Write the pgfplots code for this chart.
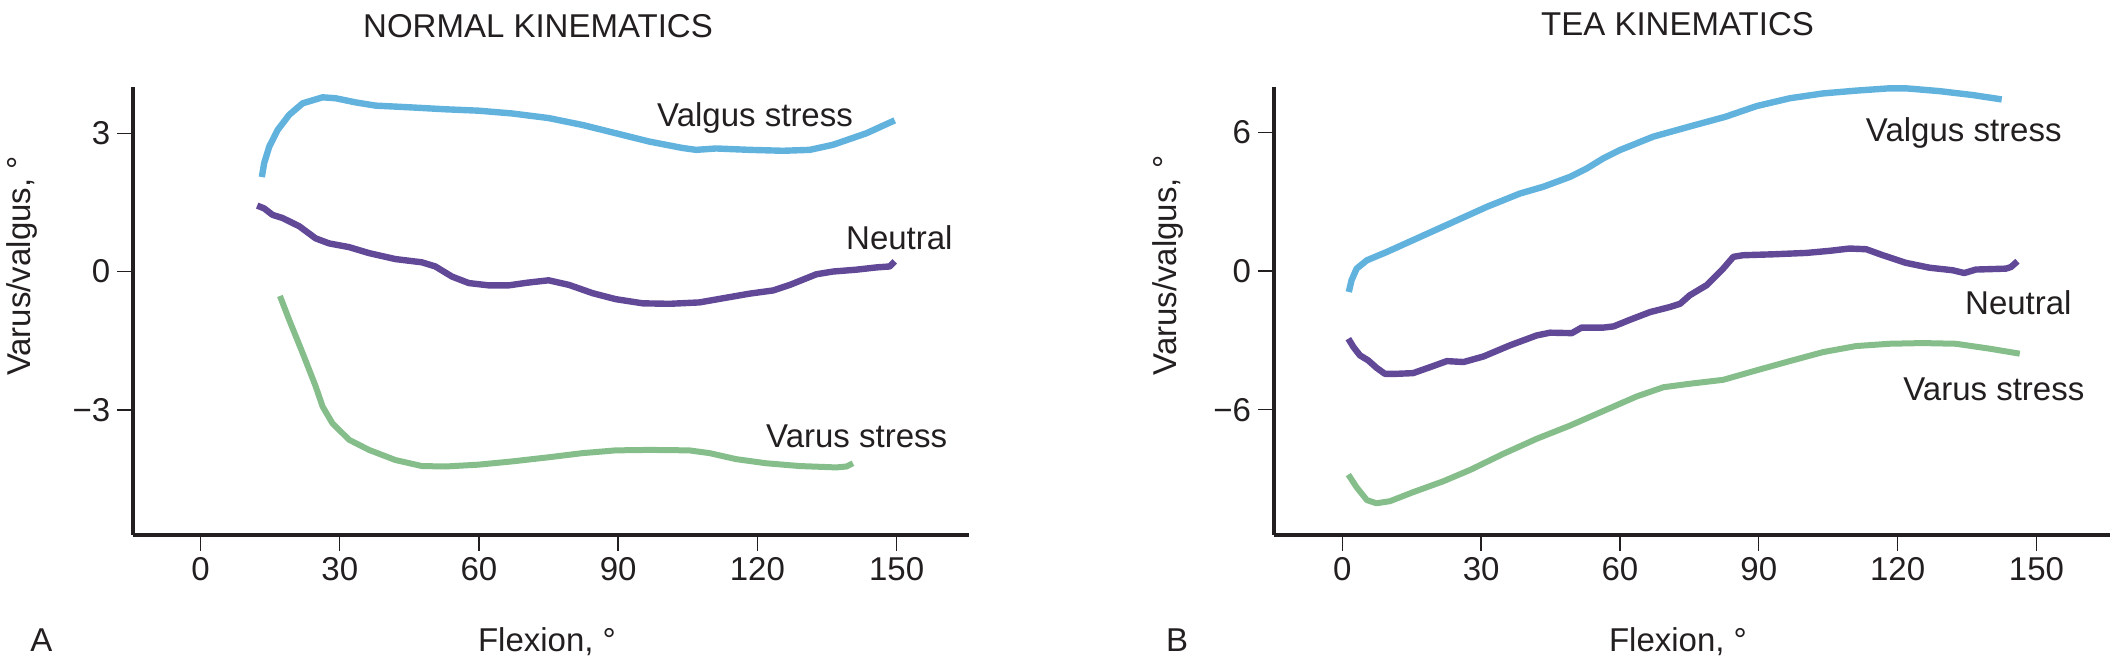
\documentclass[border=0pt]{standalone}
\usepackage{fontspec}
\setmainfont{Liberation Sans}
\usepackage{pgfplots}
\pgfplotsset{compat=1.18}
\definecolor{cblue}{RGB}{97,179,222}
\definecolor{cpurple}{RGB}{98,73,152}
\definecolor{cgreen}{RGB}{134,190,139}
\definecolor{ink}{RGB}{35,31,32}
\pgfplotsset{
 panel/.style={
  scale only axis, width=417.6pt, height=224pt,
  axis lines=left, axis line style={line width=2pt, ink, -},
  tick align=outside, major tick length=8pt,
  tick style={line width=0.7pt, ink},
  xtick={0,30,...,150},
  /pgf/number format/assume math mode=true,
  tick label style={font=\fontsize{16.5}{19}\selectfont, text=ink},
  clip=false,
  every axis plot/.append style={line width=3.2pt, line join=round},
 }
}
\begin{document}
\begin{tikzpicture}
\path[use as bounding box] (0,0) rectangle (1055pt,-330.5pt);
% Panel A
\begin{axis}[panel, at={(66.65pt,-43.35pt)}, anchor=north west,
  xmin=-14.5, xmax=165.5, ymin=-5.71, ymax=4.01,
  ytick={-3,0,3}, yticklabels={−3,0,3}]
\addplot[cblue] coordinates {(13.2,2.05)(13.7,2.35)(14.8,2.71)(16.6,3.07)(19.1,3.40)(22.0,3.65)(26.3,3.78)(29.1,3.76)(33.4,3.67)(37.7,3.60)(45.6,3.56)(52.8,3.52)(59.9,3.49)(67.1,3.43)(75.0,3.33)(82.3,3.18)(89.5,3.00)(96.7,2.82)(103.9,2.68)(106.8,2.64)(111.1,2.67)(118.3,2.64)(125.5,2.62)(131.3,2.64)(136.3,2.75)(143.5,3.00)(149.6,3.28)};
\addplot[cpurple] coordinates {(12.2,1.43)(13.7,1.37)(15.5,1.23)(17.7,1.16)(21.3,0.98)(24.8,0.72)(27.7,0.61)(32.0,0.53)(36.3,0.40)(42.0,0.27)(47.7,0.20)(50.6,0.11)(54.2,-0.11)(57.8,-0.25)(62.1,-0.30)(66.4,-0.30)(70.6,-0.24)(75.0,-0.19)(79.4,-0.29)(84.5,-0.47)(89.5,-0.60)(95.3,-0.69)(101.1,-0.70)(107.5,-0.67)(112.6,-0.58)(118.3,-0.48)(123.4,-0.41)(127.0,-0.29)(132.7,-0.06)(136.3,0.00)(141.3,0.04)(145.7,0.09)(148.5,0.11)(149.6,0.22)};
\addplot[cgreen, line width=3pt] coordinates {(17.1,-0.53)(19.1,-1.05)(22.0,-1.77)(24.8,-2.49)(26.3,-2.93)(28.4,-3.29)(32.0,-3.65)(36.3,-3.87)(42.0,-4.09)(47.7,-4.22)(52.8,-4.23)(59.9,-4.19)(67.1,-4.12)(75.0,-4.03)(82.3,-3.94)(89.5,-3.88)(96.7,-3.87)(105.3,-3.88)(109.7,-3.94)(115.4,-4.07)(121.9,-4.16)(129.1,-4.22)(137.0,-4.25)(139.2,-4.23)(140.6,-4.16)};
\node[anchor=base, font=\fontsize{16.5}{19}\selectfont, text=ink] at (axis cs:119.5,3.15) {Valgus stress};
\node[anchor=base, font=\fontsize{16.5}{19}\selectfont, text=ink] at (axis cs:150.6,0.48) {Neutral};
\node[anchor=base, font=\fontsize{16.5}{19}\selectfont, text=ink] at (axis cs:141.4,-3.82) {Varus stress};
\end{axis}
% Panel B
\begin{axis}[panel, at={(637pt,-43.35pt)}, anchor=north west,
  width=418pt,
  xmin=-14.76, xmax=165.9, ymin=-11.41, ymax=7.97,
  ytick={-6,0,6}, yticklabels={−6,0,6}]
\addplot[cblue] coordinates {(1.4,-0.91)(2.0,-0.40)(3.1,0.10)(5.3,0.46)(9.6,0.82)(16.8,1.47)(24.0,2.12)(31.2,2.77)(38.4,3.35)(43.4,3.64)(49.2,4.07)(52.8,4.43)(56.4,4.87)(60.0,5.23)(67.2,5.81)(75.1,6.25)(82.8,6.67)(89.5,7.13)(96.7,7.47)(103.9,7.68)(111.0,7.80)(118.2,7.90)(121.8,7.90)(129.0,7.78)(136.2,7.61)(142.5,7.42)};
\addplot[cpurple] coordinates {(1.3,-2.93)(2.4,-3.29)(3.8,-3.65)(5.6,-3.87)(7.4,-4.19)(9.2,-4.45)(11.7,-4.45)(15.3,-4.42)(19.0,-4.16)(22.6,-3.90)(26.2,-3.94)(30.5,-3.70)(36.2,-3.22)(42.0,-2.79)(44.9,-2.67)(49.6,-2.69)(51.7,-2.45)(56.4,-2.45)(58.6,-2.40)(62.2,-2.11)(66.5,-1.78)(70.8,-1.56)(73.0,-1.42)(75.1,-1.05)(78.7,-0.62)(82.3,0.10)(84.5,0.61)(86.6,0.68)(93.1,0.72)(100.3,0.78)(105.3,0.87)(109.6,0.97)(113.2,0.94)(116.8,0.68)(121.8,0.35)(126.9,0.14)(131.9,0.03)(134.4,-0.09)(136.9,0.06)(143.4,0.10)(144.5,0.17)(145.9,0.42)};
\addplot[cgreen, line width=3pt] coordinates {(1.3,-8.81)(3.1,-9.36)(5.3,-9.91)(7.4,-10.05)(10.3,-9.96)(15.3,-9.57)(21.8,-9.10)(27.6,-8.61)(34.8,-7.91)(42.0,-7.26)(49.2,-6.69)(56.4,-6.06)(63.6,-5.43)(69.4,-5.03)(75.1,-4.88)(82.3,-4.71)(89.5,-4.30)(96.7,-3.90)(103.9,-3.51)(111.0,-3.25)(118.2,-3.15)(125.4,-3.12)(132.6,-3.15)(139.8,-3.36)(146.4,-3.58)};
\node[anchor=base, font=\fontsize{16.5}{19}\selectfont, text=ink] at (axis cs:134.3,5.59) {Valgus stress};
\node[anchor=base, font=\fontsize{16.5}{19}\selectfont, text=ink] at (axis cs:146.1,-1.89) {Neutral};
\node[anchor=base, font=\fontsize{16.5}{19}\selectfont, text=ink] at (axis cs:140.8,-5.60) {Varus stress};
\end{axis}
% titles and labels
\tikzset{lab/.style={font=\fontsize{16.5}{19}\selectfont, text=ink, inner sep=0pt}}
\node[lab] at (269pt,-13pt) {NORMAL KINEMATICS};
\node[lab] at (838.75pt,-12.1pt) {TEA KINEMATICS};
\node[lab, anchor=base] at (273.5pt,-325.5pt) {Flexion, °};
\node[lab, anchor=base] at (839pt,-325.5pt) {Flexion, °};
\node[lab, anchor=base] at (20.75pt,-325.5pt) {A};
\node[lab, anchor=base] at (588.5pt,-325.5pt) {B};
\node[lab, anchor=base, rotate=90] at (15.3pt,-133pt) {Varus/valgus, °};
\node[lab, anchor=base, rotate=90] at (588pt,-132.8pt) {Varus/valgus, °};
\end{tikzpicture}
\end{document}
